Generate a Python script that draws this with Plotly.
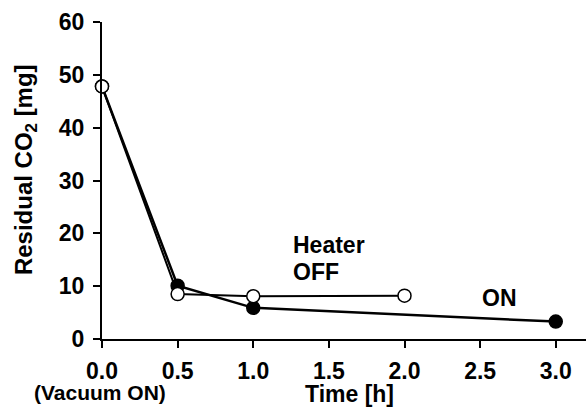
import plotly.graph_objects as go

time_on = [0.0, 0.5, 1.0, 3.0]
co2_on = [47.8, 10.1, 5.9, 3.3]
time_off = [0.0, 0.5, 1.0, 2.0]
co2_off = [47.8, 8.5, 8.1, 8.2]
x_ticks = [0.0, 0.5, 1.0, 1.5, 2.0, 2.5, 3.0]
x_tick_text = ["0.0", "0.5", "1.0", "1.5", "2.0", "2.5", "3.0"]
y_ticks = [0, 10, 20, 30, 40, 50, 60]

FONT = "Liberation Sans, Arial, sans-serif"
TICK_FONT = dict(size=23, family=FONT, color="black", weight="bold")

fig = go.Figure()
fig.add_trace(go.Scatter(
    x=time_on, y=co2_on, mode="lines+markers", name="ON",
    line=dict(color="black", width=2.5),
    marker=dict(size=13, color="black", line=dict(color="black", width=1.5)),
    cliponaxis=False))
fig.add_trace(go.Scatter(
    x=time_off, y=co2_off, mode="lines+markers", name="OFF",
    line=dict(color="black", width=2),
    marker=dict(size=13, color="white", line=dict(color="black", width=1.5)),
    cliponaxis=False))

fig.update_layout(
    width=586, height=407,
    margin=dict(l=102, r=0, t=22, b=68),
    paper_bgcolor="white", plot_bgcolor="white",
    showlegend=False,
    font=dict(family=FONT, color="black"),
    xaxis=dict(range=[0, 3.2], tickvals=x_ticks, ticktext=x_tick_text,
               automargin=False, ticklabelstandoff=3,
               showline=True, linecolor="black", linewidth=2,
               ticks="outside", ticklen=7, tickwidth=2, tickcolor="black",
               showgrid=False, zeroline=False, tickfont=TICK_FONT),
    yaxis=dict(range=[0, 60], tickvals=y_ticks, automargin=False,
               ticklabelstandoff=4,
               showline=True, linecolor="black", linewidth=2,
               ticks="outside", ticklen=7, tickwidth=2, tickcolor="black",
               showgrid=False, zeroline=False, tickfont=TICK_FONT),
)

ann_font = dict(family=FONT, size=23, color="black", weight="bold")
fig.add_annotation(text="Residual CO<sub>2</sub> [mg]", xref="paper", yref="paper",
                   x=-0.159, y=0.533, xanchor="center", yanchor="middle",
                   textangle=-90, showarrow=False,
                   font=dict(family=FONT, size=24, color="black", weight="bold"))
fig.add_annotation(text="Time [h]", xref="paper", yref="paper",
                   x=0.511, y=-0.172, xanchor="center", yanchor="middle",
                   showarrow=False, font=ann_font)
fig.add_annotation(text="(Vacuum ON)", xref="paper", yref="paper",
                   x=-0.005, y=-0.168, xanchor="center", yanchor="middle",
                   showarrow=False, font=dict(family=FONT, size=21, color="black", weight="bold"))
fig.add_annotation(text="Heater", xref="x", yref="y",
                   x=1.25, y=17.86, xanchor="left", yanchor="middle",
                   showarrow=False, font=ann_font)
fig.add_annotation(text="OFF", xref="x", yref="y",
                   x=1.25, y=12.6, xanchor="left", yanchor="middle",
                   showarrow=False, font=ann_font)
fig.add_annotation(text="ON", xref="x", yref="y",
                   x=2.63, y=7.8, xanchor="center", yanchor="middle",
                   showarrow=False, font=ann_font)

fig.write_html("out.html", config={"displayModeBar": False},
               post_script="document.body.style.margin='0';")
